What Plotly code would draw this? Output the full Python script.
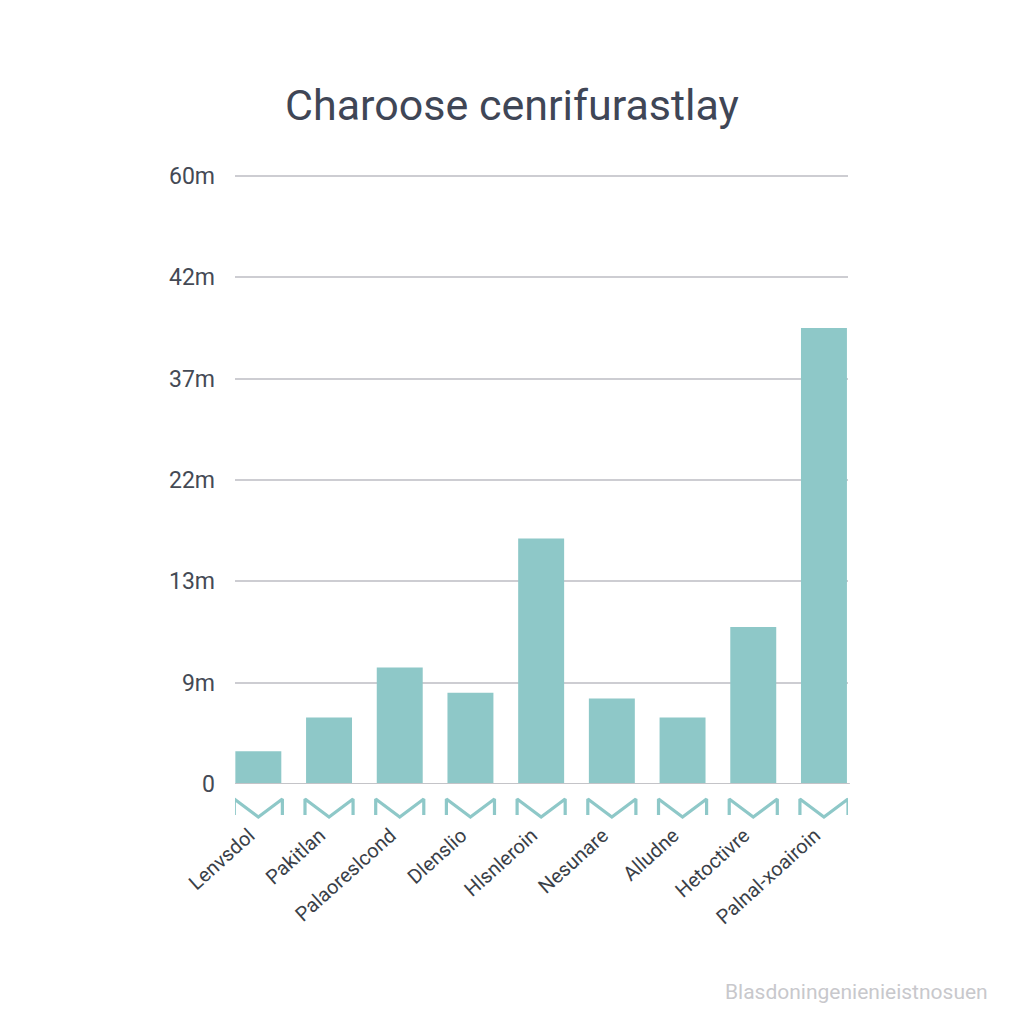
import numpy as np
import plotly.graph_objects as go

# ---- data ----
categories = ["Lenvsdol", "Pakitlan", "Palaoreslcond", "Dlenslio", "Hlsnleroin",
              "Nesunare", "Alludne", "Hetoctivre", "Palnal-xoairoin"]
values_m = [2.9, 5.9, 9.6, 8.1, 16.8, 7.6, 5.9, 11.2, 39.5]
tick_values_m = [0, 9, 13, 22, 37, 42, 60]
tick_labels = ["0", "9m", "13m", "22m", "37m", "42m", "60m"]

title_text = "Charoose cenrifurastlay"
watermark_text = "Blasdoningenienieistnosuen"

# axis labels are evenly spaced, so map values piecewise onto tick slots
tick_pos = list(range(len(tick_values_m)))
bar_pos = np.interp(values_m, tick_values_m, tick_pos)

BAR = "#8ec8c8"
x_idx = list(range(len(categories)))

# page body offsets the figure by 8px
OFF = 8
YMAX = 6.05
unit_px = (784 - 176) / 6
L, R = 235 - OFF, 848 - OFF
B = 824 - OFF
T = int(round(176 - OFF - (YMAX - 6) * unit_px))
PW, PH = R - L, B - T

fig = go.Figure()
fig.add_trace(go.Bar(x=x_idx, y=bar_pos, marker=dict(color=BAR, line=dict(width=0)),
                     width=0.65, xaxis="x", yaxis="y", hoverinfo="skip"))

# chevron decorations under each bar
cx, cy = [], []
w = 0.34
for i in x_idx:
    cx += [i - w, i - w, i, i + w, i + w, None]
    cy += [9, 25, 7, 25, 9, None]
fig.add_trace(go.Scatter(x=cx, y=cy, mode="lines", line=dict(color=BAR, width=3.2),
                         xaxis="x2", yaxis="y2", hoverinfo="skip", connectgaps=False))

fig.update_layout(
    width=1024, height=1024,
    paper_bgcolor="white", plot_bgcolor="white",
    showlegend=False,
    margin=dict(l=L, r=1024 - R, t=T, b=1024 - B, autoexpand=False),
    font=dict(family="Roboto, sans-serif", color="#444a55"),
    title=dict(text=title_text, x=(512 - OFF) / 1024, xanchor="center",
               y=1 - (105 - OFF) / 1024, yanchor="middle",
               font=dict(size=43, color="#3f4656", family="Roboto, sans-serif")),
    xaxis=dict(range=[-0.33, 8.34], showticklabels=False, showgrid=False, zeroline=False,
               anchor="y", showline=False),
    yaxis=dict(domain=[40 / PH, 1], range=[0, YMAX], tickvals=tick_pos, ticktext=tick_labels,
               showgrid=True, gridcolor="#cdcdd2", gridwidth=1.5, zeroline=False,
               showline=False, ticks="", ticklabelstandoff=19,
               tickfont=dict(size=23, color="#444a55")),
    xaxis2=dict(range=[-0.33, 8.34], anchor="y2", tickvals=x_idx,
                ticktext=categories, tickangle=-42, showgrid=False, zeroline=False,
                showline=False, ticks="", ticklabelstandoff=-5, ticklabelshift=-9,
                tickfont=dict(size=20, color="#3a3f48")),
    yaxis2=dict(domain=[0, 40 / PH], range=[0, 40], showticklabels=False, showgrid=False,
                zeroline=False, showline=False, anchor="x2"),
)

# baseline
fig.add_shape(type="line", xref="paper", yref="y", x0=0, x1=1.003, y0=0, y1=0,
              line=dict(color="#c4c4c8", width=2))

fig.add_annotation(text=watermark_text, xref="paper", yref="paper",
                   x=(990 - OFF - L) / PW, y=-(992 - OFF - B) / PH,
                   xanchor="right", yanchor="middle", showarrow=False,
                   font=dict(size=21, color="#c8c8cc", family="Roboto, sans-serif"))

fig.write_html("out.html")
